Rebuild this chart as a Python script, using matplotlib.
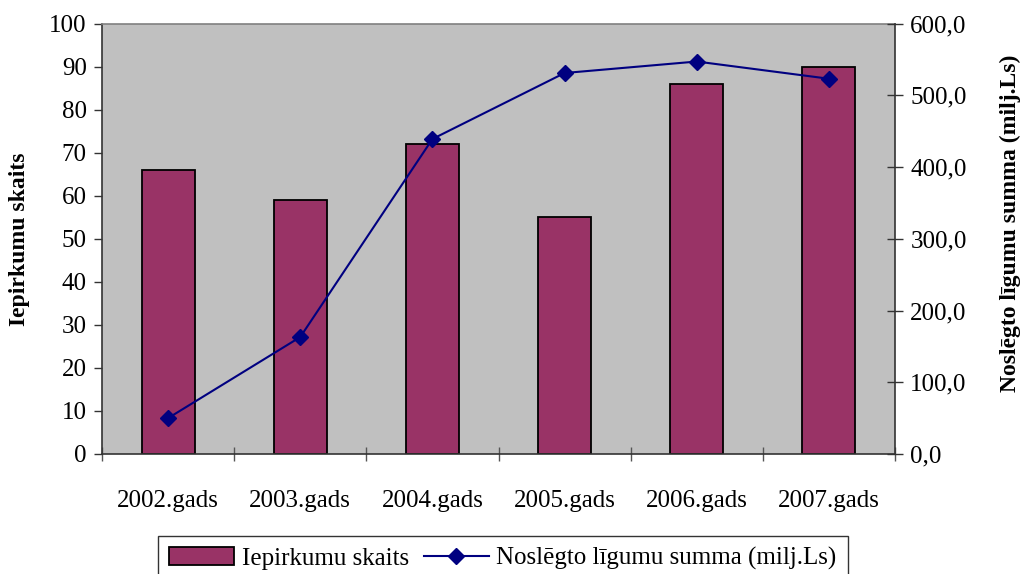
import matplotlib
matplotlib.use("Agg")
import matplotlib.pyplot as plt
import numpy as np

categories = ["2002.gads", "2003.gads", "2004.gads", "2005.gads", "2006.gads", "2007.gads"]
purchases = [66, 59, 72, 55, 86, 90]
contract_sum = [50.0, 163.0, 439.0, 531.0, 547.0, 523.0]
left_ticks = list(range(0, 101, 10))
right_ticks = [0, 100, 200, 300, 400, 500, 600]

plt.rcParams['font.family'] = ['Liberation Serif', 'DejaVu Serif']
FS = 18

W, H = 1022, 574
fig = plt.figure(figsize=(W / 100, H / 100), dpi=100)
L, R, T, B = 102, 895, 23.5, 454
ax = fig.add_axes([L / W, 1 - B / H, (R - L) / W, (B - T) / H])
ax.set_facecolor('#C0C0C0')
x = np.arange(len(categories))
bars = ax.bar(x, purchases, width=0.4, color='#993366', edgecolor='black', linewidth=1.3,
              label='Iepirkumu skaits', zorder=2)
ax.set_xlim(-0.5, len(categories) - 0.5)
ax.set_ylim(0, 100)
ax.set_yticks(left_ticks)
ax.set_yticklabels([str(t) for t in left_ticks], fontsize=FS)
ax.set_xticks(x)
ax.set_xticklabels(categories, fontsize=FS)
ax.tick_params(axis='x', length=0, pad=26)
ax.set_xticks(np.arange(-0.5, len(categories)), minor=True)
ax.tick_params(axis='x', which='minor', direction='inout', length=10, width=1, color='#555555')
ax.tick_params(axis='y', direction='out', length=6, width=1, color='#333333', pad=5)
ax.set_ylabel('Iepirkumu skaits', fontsize=17, fontweight='bold', labelpad=14)
for s in ['left', 'bottom']:
    ax.spines[s].set_color('#333333')
    ax.spines[s].set_linewidth(1.2)
ax.spines['top'].set_color('#808080')
ax.spines['top'].set_linewidth(1.2)
ax.spines['right'].set_visible(False)

ax2 = ax.twinx()
line, = ax2.plot(x, contract_sum, color='#000080', linewidth=1.5, marker='D', markersize=8,
                 markerfacecolor='#000080', markeredgecolor='#000080',
                 label='Noslēgto līgumu summa (milj.Ls)', zorder=3)
ax2.set_ylim(0, 600)
ax2.set_yticks(right_ticks)
ax2.set_yticklabels([f"{t:.1f}".replace('.', ',') for t in right_ticks], fontsize=FS)
ax2.tick_params(axis='y', direction='inout', length=12, width=1, color='#333333', pad=5)
ax2.set_ylabel('Noslēgto līgumu summa (milj.Ls)', fontsize=17, fontweight='bold')
ax2.yaxis.label.set_va('center')
ax2.yaxis.set_label_coords((1010 - L) / (R - L), (B - 223) / (B - T))
ax2.spines['right'].set_color('#333333')
ax2.spines['right'].set_linewidth(1.2)
for s in ['top', 'left', 'bottom']:
    ax2.spines[s].set_visible(False)

leg = fig.legend([bars, line], ['Iepirkumu skaits', 'Noslēgto līgumu summa (milj.Ls)'],
                 loc='lower center', bbox_to_anchor=(0.492, -0.035), ncol=2, fontsize=FS,
                 frameon=True, fancybox=False, edgecolor='black', handlelength=2.6,
                 handletextpad=0.3, columnspacing=0.6, borderpad=0.45)
leg.get_frame().set_linewidth(1.0)

fig.savefig('out.png', dpi=100)
